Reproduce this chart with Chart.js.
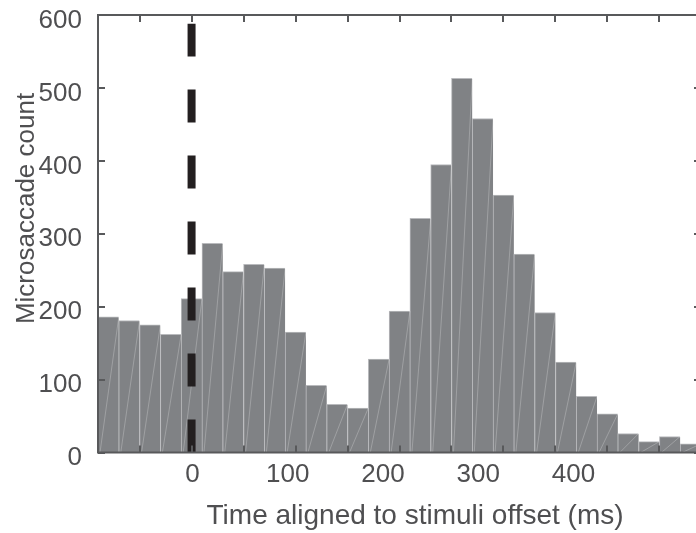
<!DOCTYPE html>
<html>
<head>
<meta charset="utf-8">
<script src="https://cdn.jsdelivr.net/npm/chart.js@4/dist/chart.umd.min.js"></script>
<style>
  html, body { margin: 0; padding: 0; background: #ffffff; overflow: hidden; }
  #wrap { width: 710px; height: 533px; }
</style>
</head>
<body>
<div id="wrap"><canvas id="c" width="710" height="533"></canvas></div>
<script>
// ---- data ----
const binCenters = [-80, -60, -40, -20, 0, 20, 40, 60, 80, 100, 120, 140, 160, 180, 200,
                    220, 240, 260, 280, 300, 320, 340, 360, 380, 400, 420, 440, 460, 480];
const counts = [186, 181, 175, 162, 211, 287, 248, 258, 253, 165, 92, 66, 61, 128, 194,
                321, 395, 513, 458, 353, 272, 192, 124, 77, 53, 26, 15, 22, 12];
const markerX = 0;          // stimulus offset (ms)
const markerTop = 588;      // extent of the dashed marker (count units)
const yTicks = [0, 100, 200, 300, 400, 500, 600];
const xTickLabels = [0, 100, 200, 300, 400];
const xTickMarks = [-50, 0, 50, 100, 150, 200, 250, 300, 350, 400, 450];
const xTitle = '    Time aligned to stimuli offset (ms)';
const yTitle = '       Microsaccade count';

const barData = binCenters.map((c, i) => ({ x: c, y: counts[i] }));
const markerData = [{ x: markerX, y: 0 }, { x: markerX, y: markerTop }];

const FONT = "'Liberation Sans', Arial, Helvetica, sans-serif";
const TEXT = '#4f4f51';
const AXIS = '#58595b';

const seamPlugin = {
  id: 'seams',
  afterDatasetDraw(chart, args) {
    if (args.index !== 0) return;
    const ctx = chart.ctx;
    ctx.save();
    ctx.strokeStyle = 'rgba(255,255,255,0.3)';
    ctx.lineWidth = 0.8;
    args.meta.data.forEach(el => {
      const p = el.getProps(['x', 'y', 'base', 'width'], true);
      ctx.beginPath();
      ctx.moveTo(p.x - p.width / 2 + 2, p.base);
      ctx.lineTo(p.x + p.width / 2, p.y);
      ctx.stroke();
    });
    ctx.restore();
  }
};

const framePlugin = {
  id: 'frame',
  afterDraw(chart) {
    const { ctx, chartArea: a, scales } = chart;
    const xs = scales.x, ys = scales.y;
    const tl = 7;
    ctx.save();
    ctx.strokeStyle = AXIS;
    ctx.lineWidth = 2;
    ctx.beginPath();
    ctx.rect(a.left, a.top, a.right - a.left, a.bottom - a.top);
    ctx.stroke();
    ctx.beginPath();
    xTickMarks.forEach(v => {
      const px = Math.round(xs.getPixelForValue(v));
      ctx.moveTo(px, a.top); ctx.lineTo(px, a.top + tl);
      ctx.moveTo(px, a.bottom); ctx.lineTo(px, a.bottom - tl);
    });
    yTicks.forEach(v => {
      const py = Math.round(ys.getPixelForValue(v));
      ctx.moveTo(a.left, py); ctx.lineTo(a.left + tl, py);
      ctx.moveTo(a.right, py); ctx.lineTo(a.right - tl, py);
    });
    ctx.stroke();
    ctx.restore();
  }
};

new Chart(document.getElementById('c'), {
  type: 'bar',
  data: {
    datasets: [
      {
        type: 'bar',
        data: barData,
        xAxisID: 'x',
        yAxisID: 'y',
        backgroundColor: '#808285',
        borderColor: '#b9babd',
        borderWidth: { top: 1, left: 1, right: 0, bottom: 0 },
        borderSkipped: false,
        barPercentage: 1.0,
        categoryPercentage: 1.0,
        order: 2
      },
      {
        type: 'line',
        data: markerData,
        xAxisID: 'x',
        yAxisID: 'y',
        borderColor: '#231f20',
        borderWidth: 8,
        borderDash: [33, 33],
        borderCapStyle: 'butt',
        pointRadius: 0,
        fill: false,
        order: 1
      }
    ]
  },
  options: {
    responsive: false,
    devicePixelRatio: 1,
    animation: false,
    layout: { padding: { top: 15, right: 9, left: 0, bottom: 0 } },
    plugins: { legend: { display: false }, tooltip: { enabled: false } },
    scales: {
      x: {
        type: 'linear',
        display: false,
        min: -90,
        max: 490,
        offset: false
      },
      xl: {
        type: 'linear',
        position: 'bottom',
        min: -99.2,
        max: 533.9,
        offset: false,
        grid: { display: false, drawTicks: false, offset: false },
        border: { display: false },
        afterBuildTicks: s => { s.ticks = xTickLabels.map(v => ({ value: v })); },
        afterFit: s => { s.height = 80.5; s.paddingLeft = 0; s.paddingRight = 0; },
        ticks: {
          color: TEXT,
          padding: 6.5,
          maxRotation: 0,
          font: { family: FONT, size: 26 },
          callback: v => String(v)
        },
        title: {
          display: true,
          text: xTitle,
          color: TEXT,
          font: { family: FONT, size: 28 },
          padding: { top: 0, bottom: 0 }
        }
      },
      y: {
        type: 'linear',
        position: 'left',
        min: 0,
        max: 600,
        grid: { display: false, drawTicks: false },
        border: { display: false },
        afterBuildTicks: s => { s.ticks = yTicks.map(v => ({ value: v })); },
        afterFit: s => { s.width = 98; s.paddingTop = 0; s.paddingBottom = 0; },
        ticks: {
          color: TEXT,
          padding: 16,
          labelOffset: 5.5,
          font: { family: FONT, size: 26 },
          callback: v => String(v)
        },
        title: {
          display: true,
          text: yTitle,
          color: TEXT,
          font: { family: FONT, size: 26 },
          padding: { top: 11, bottom: 0 }
        }
      }
    }
  },
  plugins: [seamPlugin, framePlugin]
});
</script>
</body>
</html>
